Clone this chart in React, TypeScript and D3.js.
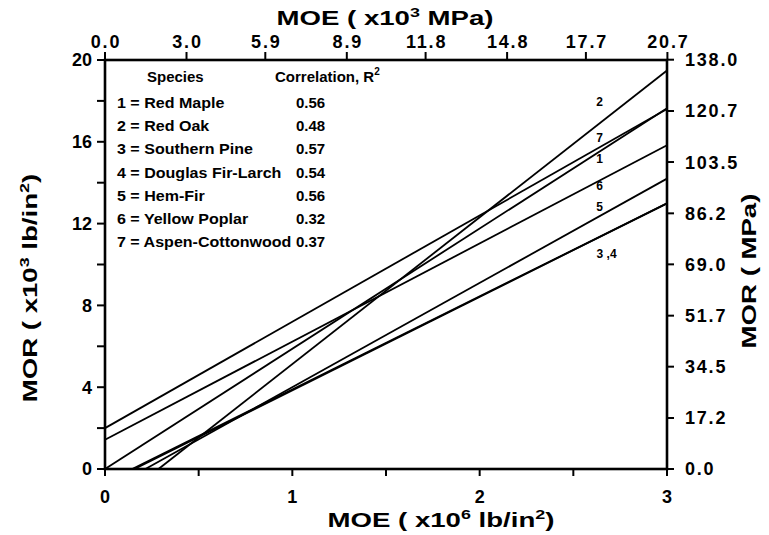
import React, { useEffect, useRef } from 'react';
import * as d3 from 'd3';

// regression lines, MOR (x10^3 psi) = intercept + slope * MOE (x10^6 psi)
const species = ['Red Maple', 'Red Oak', 'Southern Pine', 'Douglas Fir-Larch', 'Hem-Fir', 'Yellow Poplar', 'Aspen-Cottonwood'];
const correlation = ['0.56', '0.48', '0.57', '0.54', '0.56', '0.32', '0.37'];
const intercept = [0, -2.05, -0.66, -0.72, -1.1, 1.43, 2.0];
const slope = [5.88, 7.18, 4.55, 4.57, 5.1, 4.8, 5.2];
const lineLabels = ['1', '2', '3 ,4', '', '5', '6', '7'];

const moeTicks = [0, 0.5, 1, 1.5, 2, 2.5, 3];
const moeLabels = [0, 1, 2, 3];
const morTicks = [0, 2, 4, 6, 8, 10, 12, 14, 16, 18, 20];
const morLabels = [0, 4, 8, 12, 16, 20];
const moeMpaLabels = [0.0, 3.0, 5.9, 8.9, 11.8, 14.8, 17.7, 20.7];
const morMpaLabels = [0.0, 17.2, 34.5, 51.7, 69.0, 86.2, 103.5, 120.7, 138.0];

const PSI_TO_MPA = 6.895;

const W = 769;
const H = 535;
const left = 105, right = 667, top = 60, bottom = 469;
const font = '"Liberation Sans", Arial, Helvetica, sans-serif';

// label placement, pixels relative to its line at MOE = labelAt
const labelAt = 2.64;
const labelDy = [7, -21, 17, 0, -9, 5, -10];
const labelDx = [0, 0, 7, 0, 0, 0, 0];

export default function App() {
    const ref = useRef<SVGSVGElement>(null);

    useEffect(() => {
        const svg = d3.select(ref.current);
        svg.selectAll('*').remove();

        const x = d3.scaleLinear().domain([0, 3]).range([left, right]);
        const y = d3.scaleLinear().domain([0, 20]).range([bottom, top]);
        const xMpa = d3.scaleLinear().domain([0, 3 * PSI_TO_MPA]).range([left, right]);
        const yMpa = d3.scaleLinear().domain([0, 20 * PSI_TO_MPA]).range([bottom, top]);
        const f1 = d3.format('.1f');

        const g = svg.append('g').attr('font-family', font).attr('font-weight', 'bold').attr('fill', '#000');

        // regression lines
        const line = d3.line<number[]>().x(d => x(d[0])).y(d => y(d[1]));
        species.forEach((s, i) => {
            const a = intercept[i];
            const b = slope[i];
            const x0 = Math.max(0, -a / b);
            g.append('path')
                .attr('d', line([[x0, a + b * x0], [3, a + b * 3]]))
                .attr('fill', 'none')
                .attr('stroke', '#000')
                .attr('stroke-width', 1.8);
            if (lineLabels[i]) {
                g.append('text')
                    .attr('x', x(labelAt) + labelDx[i])
                    .attr('y', y(a + b * labelAt) + labelDy[i])
                    .attr('dy', '0.35em')
                    .attr('text-anchor', 'middle')
                    .attr('font-size', 12)
                    .text(lineLabels[i]);
            }
        });

        // frame
        g.append('rect')
            .attr('x', left).attr('y', top)
            .attr('width', right - left).attr('height', bottom - top)
            .attr('fill', 'none').attr('stroke', '#000').attr('stroke-width', 2.6);

        const tick = (x1: number, y1: number, x2: number, y2: number) =>
            g.append('line').attr('x1', x1).attr('y1', y1).attr('x2', x2).attr('y2', y2)
                .attr('stroke', '#000').attr('stroke-width', 2);

        // bottom axis
        moeTicks.forEach(v => tick(x(v), bottom, x(v), bottom + 7));
        moeLabels.forEach(v => {
            g.append('text').attr('x', x(v)).attr('y', 503)
                .attr('text-anchor', 'middle').attr('font-size', 18).text(v);
        });

        // left axis
        morTicks.forEach(v => tick(left - 8, y(v), left, y(v)));
        morLabels.forEach(v => {
            g.append('text').attr('x', 92).attr('y', y(v)).attr('dy', '0.36em')
                .attr('text-anchor', 'end').attr('font-size', 18).text(v);
        });

        // top axis
        moeMpaLabels.forEach(v => {
            tick(xMpa(v), top - 8, xMpa(v), top);
            g.append('text').attr('x', xMpa(v) + 1).attr('y', 48)
                .attr('text-anchor', 'middle').attr('font-size', 18)
                .attr('letter-spacing', 1.8).text(f1(v));
        });

        // right axis
        morMpaLabels.forEach(v => {
            tick(right, yMpa(v), right + 7, yMpa(v));
            g.append('text').attr('x', 685).attr('y', yMpa(v)).attr('dy', '0.36em')
                .attr('text-anchor', 'start').attr('font-size', 18)
                .attr('letter-spacing', 1.8).text(f1(v));
        });

        // axis titles with superscripts
        const title = (tx: number, ty: number, rot: number, parts: [string, boolean][]) => {
            const t = g.append('text')
                .attr('transform', `translate(${tx},${ty}) rotate(${rot}) scale(1.38,1)`)
                .attr('text-anchor', 'middle').attr('font-size', 20);
            let up = false;
            parts.forEach(([txt, sup]) => {
                const span = t.append('tspan').text(txt);
                if (sup && !up) { span.attr('dy', -8).attr('font-size', 13); up = true; }
                else if (!sup && up) { span.attr('dy', 8); up = false; }
            });
        };
        title(441, 527, 0, [['MOE ( x10', false], ['6', true], [' lb/in', false], ['2', true], [')', false]]);
        title(385, 25, 0, [['MOE ( x10', false], ['3', true], [' MPa)', false]]);
        title(37, 288, -90, [['MOR ( x10', false], ['3', true], [' lb/in', false], ['2', true], [')', false]]);
        title(756, 271, -90, [['MOR ( MPa)', false]]);

        // legend
        const leg = g.append('g').attr('font-size', 15);
        leg.append('text').attr('x', 147).attr('y', 82).text('Species');
        const hdr = leg.append('text').attr('x', 275).attr('y', 82);
        hdr.append('tspan').text('Correlation, R');
        hdr.append('tspan').attr('dy', -7).attr('font-size', 10).text('2');
        species.forEach((s, i) => {
            const ty = 108 + i * 23.2;
            leg.append('text')
                .attr('transform', `translate(117,${ty}) scale(1.07,1)`)
                .text(`${i + 1} = ${s}`);
            leg.append('text')
                .attr('x', 296).attr('y', ty)
                .text(correlation[i]);
        });
    }, []);

    return (
        <svg ref={ref} width={W} height={H}
            style={{ position: 'absolute', left: 0, top: 0, background: '#fff' }} />
    );
}
